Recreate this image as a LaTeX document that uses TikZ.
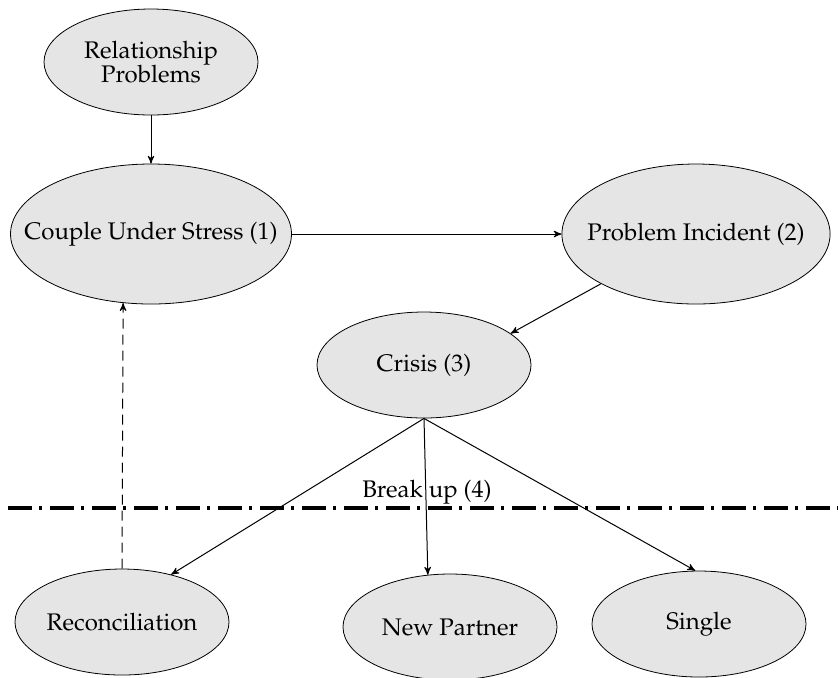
\documentclass[tikz,border=0pt]{standalone}
\usepackage[T1]{fontenc}
\usepackage{mathpazo}
\usetikzlibrary{arrows, shapes.geometric}

\begin{document}
\begin{tikzpicture}[x=0.5pt, y=-0.5pt, >=stealth', auto,
    font=\fontsize{12}{12.2}\selectfont,
    stage/.style={ellipse, draw, thin, fill=black!10, align=center, inner sep=0pt,
        minimum width=107pt, minimum height=53pt},
    bigstage/.style={stage, minimum height=70pt},
    link/.style={->, line width=0.5pt},
    breakline/.style={line width=1.6pt, dash pattern=on 12pt off 3.5pt on 1.5pt off 4pt}]

    \useasboundingbox (0,0) rectangle (838,677);

    %define the stages
    \node[stage] (problems) at (151,62) {Relationship\\Problems};
    \node[bigstage, minimum width=139pt, inner xsep=-13.6pt] (stress) at (151,234) {Couple Under Stress (1)};
    \node[bigstage, minimum width=134pt, inner xsep=-6.9pt] (incident) at (696,234) {Problem Incident (2)};
    \node[stage] (crisis) at (424,365) {Crisis (3)};
    \node[stage] (recon) at (122,622) {Reconciliation};
    \node[stage] (partner) at (450,627) {New Partner};
    \node[stage] (single) at (699,624) {Single};

    %define the break up line
    \coordinate (bl) at (8,508);
    \coordinate (br) at (838,508);
    \draw[breakline] (bl) -- (br);
    \node[anchor=base, inner sep=0pt] (breakup) at (427,497) {Break up (4)};

    %define the links
    \path[link] (problems) edge (stress)
    (stress.east) edge (incident.west)
    (incident.south west) edge (crisis.20)
    (crisis.south) edge (recon.44)
    edge (partner.113)
    edge (single.94);
    \draw[link, dash pattern=on 5pt off 3pt] (recon.north) -- (stress.-112);
\end{tikzpicture}
\end{document}
